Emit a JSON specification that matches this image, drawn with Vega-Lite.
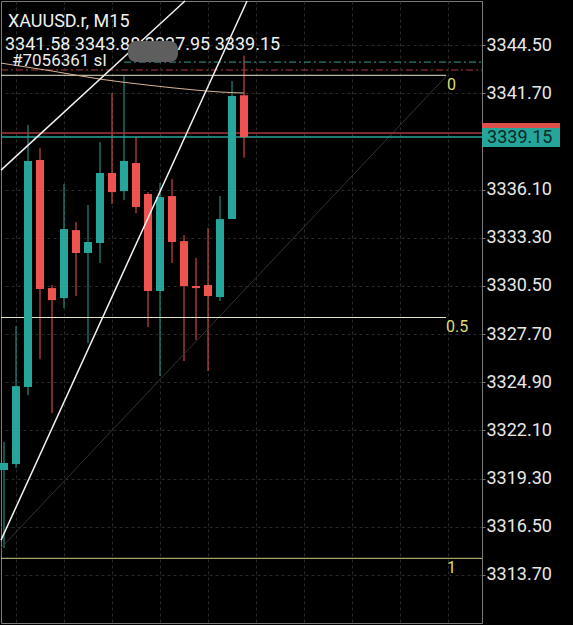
{
  "$schema": "https://vega.github.io/schema/vega-lite/v6.json",
  "width": 481,
  "height": 622,
  "autosize": {"type": "none"},
  "padding": {"left": 1, "top": 1, "right": 91, "bottom": 2},
  "background": "#000000",
  "config": {"view": {"stroke": "#7a7a7a", "strokeWidth": 1}, "font": "Roboto", "scale": {"continuousPadding": 0}},
  "datasets": {
    "candles": [
      {"i": 0, "o": 3319.79, "h": 3321.42, "l": 3315.26, "c": 3320.20},
      {"i": 1, "o": 3320.14, "h": 3328.16, "l": 3319.91, "c": 3324.67},
      {"i": 2, "o": 3324.62, "h": 3339.85, "l": 3324.15, "c": 3337.76},
      {"i": 3, "o": 3337.81, "h": 3338.51, "l": 3326.24, "c": 3330.31},
      {"i": 4, "o": 3330.37, "h": 3330.55, "l": 3323.10, "c": 3329.67},
      {"i": 5, "o": 3329.79, "h": 3336.42, "l": 3329.21, "c": 3333.80},
      {"i": 6, "o": 3333.74, "h": 3334.21, "l": 3329.91, "c": 3332.41},
      {"i": 7, "o": 3332.41, "h": 3335.20, "l": 3327.17, "c": 3333.05},
      {"i": 8, "o": 3332.99, "h": 3338.86, "l": 3331.83, "c": 3337.06},
      {"i": 9, "o": 3337.06, "h": 3341.71, "l": 3335.26, "c": 3335.95},
      {"i": 10, "o": 3336.01, "h": 3342.74, "l": 3335.49, "c": 3337.76},
      {"i": 11, "o": 3337.64, "h": 3339.15, "l": 3334.73, "c": 3335.08},
      {"i": 12, "o": 3335.84, "h": 3335.95, "l": 3328.10, "c": 3330.20},
      {"i": 13, "o": 3330.20, "h": 3336.48, "l": 3325.26, "c": 3335.66},
      {"i": 14, "o": 3335.72, "h": 3336.71, "l": 3331.83, "c": 3333.05},
      {"i": 15, "o": 3333.10, "h": 3333.45, "l": 3326.13, "c": 3330.49},
      {"i": 16, "o": 3330.49, "h": 3332.12, "l": 3327.35, "c": 3330.37},
      {"i": 17, "o": 3330.55, "h": 3333.86, "l": 3325.55, "c": 3329.91},
      {"i": 18, "o": 3329.85, "h": 3335.72, "l": 3329.62, "c": 3334.38},
      {"i": 19, "o": 3334.38, "h": 3342.41, "l": 3334.38, "c": 3341.53},
      {"i": 20, "o": 3341.58, "h": 3343.88, "l": 3337.95, "c": 3339.15}
    ],
    "ma": [
      {"i": -0.25, "p": 3343.45},
      {"i": 4, "p": 3342.99},
      {"i": 8, "p": 3342.52},
      {"i": 12, "p": 3342.17},
      {"i": 16, "p": 3341.88},
      {"i": 18, "p": 3341.77},
      {"i": 20, "p": 3341.71}
    ]
  },
  "layer": [
    {
      "data": {"name": "candles"},
      "mark": {"type": "rule", "strokeWidth": 1},
      "encoding": {
        "x": {"field": "i", "type": "quantitative", "title": null,
              "scale": {"domain": [-0.25, 39.83], "nice": false, "zero": false, "padding": 0},
              "axis": {"orient": "bottom", "values": [1, 5, 9, 13, 17, 21, 25, 29, 33, 37], "labels": false, "ticks": false, "domain": false, "grid": true, "gridColor": "#2a2a2a", "gridDash": [3, 3]}},
        "y": {"field": "l", "type": "quantitative", "title": null,
              "scale": {"domain": [3310.90, 3347.06], "nice": false, "zero": false, "padding": 0},
              "axis": {"orient": "right", "values": [3313.7, 3316.5, 3319.3, 3322.1, 3324.9, 3327.7, 3330.5, 3333.3, 3336.1, 3341.7, 3344.5], "format": ".2f", "grid": true, "gridColor": "#2a2a2a", "gridDash": [3, 3], "domainColor": "#7a7a7a", "tickColor": "#7a7a7a", "tickSize": 3, "labelColor": "#e8e8e8", "labelFont": "Roboto", "labelFontSize": 18, "labelPadding": 1, "labelOverlap": false, "labelFlush": false, "labelBound": false}},
        "y2": {"field": "h"},
        "color": {"condition": {"test": "datum.c >= datum.o", "value": "#26a69a"}, "value": "#ef5350"}
      }
    },
    {
      "data": {"values": [{"i": -0.25, "p": 3315.26}, {"i": 36.92, "p": 3342.74}]},
      "mark": {"type": "line", "color": "#333333", "strokeWidth": 1},
      "encoding": {"x": {"field": "i", "type": "quantitative", "title": null}, "y": {"field": "p", "type": "quantitative", "title": null}}
    },
    {
      "data": {"values": [{"i": 10.0, "p": 3343.51}, {"i": 39.83, "p": 3343.51}]},
      "mark": {"type": "line", "color": "#3a9d94", "strokeWidth": 1, "strokeDash": [7, 3, 2, 3]},
      "encoding": {"x": {"field": "i", "type": "quantitative", "title": null}, "y": {"field": "p", "type": "quantitative", "title": null}}
    },
    {
      "data": {"values": [{"i": -0.25, "p": 3343.05}, {"i": 39.83, "p": 3343.05}]},
      "mark": {"type": "line", "color": "#b03c3c", "strokeWidth": 1, "strokeDash": [7, 3, 2, 3]},
      "encoding": {"x": {"field": "i", "type": "quantitative", "title": null}, "y": {"field": "p", "type": "quantitative", "title": null}}
    },
    {
      "data": {"values": [
        {"lvl": "0", "i": -0.25, "p": 3342.74}, {"lvl": "0", "i": 36.83, "p": 3342.74},
        {"lvl": "0.5", "i": -0.25, "p": 3328.66}, {"lvl": "0.5", "i": 36.83, "p": 3328.66}
      ]},
      "mark": {"type": "line", "color": "#e6e2c8", "strokeWidth": 1},
      "encoding": {"x": {"field": "i", "type": "quantitative", "title": null}, "y": {"field": "p", "type": "quantitative", "title": null}, "detail": {"field": "lvl"}}
    },
    {
      "data": {"values": [{"i": -0.25, "p": 3314.66}, {"i": 39.83, "p": 3314.66}]},
      "mark": {"type": "line", "color": "#c9c98a", "strokeWidth": 1},
      "encoding": {"x": {"field": "i", "type": "quantitative", "title": null}, "y": {"field": "p", "type": "quantitative", "title": null}}
    },
    {
      "data": {"values": [{"i": -0.25, "p": 3339.39}, {"i": 39.83, "p": 3339.39}]},
      "mark": {"type": "line", "color": "#a83a3a", "strokeWidth": 1.5},
      "encoding": {"x": {"field": "i", "type": "quantitative", "title": null}, "y": {"field": "p", "type": "quantitative", "title": null}}
    },
    {
      "data": {"values": [{"i": -0.25, "p": 3339.15}, {"i": 39.83, "p": 3339.15}]},
      "mark": {"type": "line", "color": "#26a69a", "strokeWidth": 1.5},
      "encoding": {"x": {"field": "i", "type": "quantitative", "title": null}, "y": {"field": "p", "type": "quantitative", "title": null}}
    },
    {
      "data": {"name": "ma"},
      "mark": {"type": "line", "color": "#d9b394", "strokeWidth": 1, "interpolate": "monotone"},
      "encoding": {"x": {"field": "i", "type": "quantitative", "title": null}, "y": {"field": "p", "type": "quantitative", "title": null}}
    },
    {
      "data": {"name": "candles"},
      "mark": {"type": "bar", "width": 8},
      "encoding": {
        "x": {"field": "i", "type": "quantitative", "title": null},
        "y": {"field": "o", "type": "quantitative", "title": null},
        "y2": {"field": "c"},
        "color": {"condition": {"test": "datum.c >= datum.o", "value": "#26a69a"}, "value": "#ef5350"}
      }
    },
    {
      "data": {"values": [
        {"k": "a", "i": -0.25, "p": 3337.23}, {"k": "a", "i": 15.08, "p": 3347.06},
        {"k": "b", "i": -0.25, "p": 3315.72}, {"k": "b", "i": 20.25, "p": 3347.06}
      ]},
      "mark": {"type": "line", "color": "#f2f2f2", "strokeWidth": 1.5},
      "encoding": {"x": {"field": "i", "type": "quantitative", "title": null}, "y": {"field": "p", "type": "quantitative", "title": null}, "detail": {"field": "k"}}
    },
    {
      "data": {"values": [
        {"t": "XAUUSD.r, M15", "i": 0.33, "p": 3345.84},
        {"t": "3341.58 3343.88 3337.95 3339.15", "i": 0.08, "p": 3344.52}
      ]},
      "mark": {"type": "text", "align": "left", "baseline": "middle", "font": "Roboto", "fontSize": 18, "color": "#f0f0f0"},
      "encoding": {"x": {"field": "i", "type": "quantitative", "title": null}, "y": {"field": "p", "type": "quantitative", "title": null}, "text": {"field": "t"}}
    },
    {
      "data": {"values": [
        {"t": "#7056361 sl", "i": 0.67, "p": 3343.60}
      ]},
      "mark": {"type": "text", "align": "left", "baseline": "middle", "font": "Roboto", "fontSize": 17, "color": "#ececec"},
      "encoding": {"x": {"field": "i", "type": "quantitative", "title": null}, "y": {"field": "p", "type": "quantitative", "title": null}, "text": {"field": "t"}}
    },
    {
      "data": {"values": [{"i": 10.33, "i2": 14.5, "p": 3344.73, "p2": 3343.51}]},
      "mark": {"type": "rect", "color": "#5e5e5e", "cornerRadius": 8},
      "encoding": {"x": {"field": "i", "type": "quantitative", "title": null}, "x2": {"field": "i2"}, "y": {"field": "p", "type": "quantitative", "title": null}, "y2": {"field": "p2"}}
    },
    {
      "data": {"values": [
        {"t": "0", "i": 36.92, "p": 3342.17},
        {"t": "0.5", "i": 36.83, "p": 3328.10},
        {"t": "1", "i": 36.92, "p": 3314.09}
      ]},
      "mark": {"type": "text", "align": "left", "baseline": "middle", "font": "Roboto", "fontSize": 16, "color": "#dede6e"},
      "encoding": {"x": {"field": "i", "type": "quantitative", "title": null}, "y": {"field": "p", "type": "quantitative", "title": null}, "text": {"field": "t"}}
    },
    {
      "data": {"values": [
        {"b": "ask", "i": 39.83, "i2": 46.33, "p": 3339.97, "p2": 3338.80},
        {"b": "bid", "i": 39.83, "i2": 46.33, "p": 3339.67, "p2": 3338.57}
      ]},
      "mark": {"type": "rect"},
      "encoding": {
        "x": {"field": "i", "type": "quantitative", "title": null}, "x2": {"field": "i2"},
        "y": {"field": "p", "type": "quantitative", "title": null}, "y2": {"field": "p2"},
        "color": {"field": "b", "type": "nominal", "scale": {"domain": ["ask", "bid"], "range": ["#e0504a", "#26a69a"]}, "legend": null}
      }
    },
    {
      "data": {"values": [{"t": "3339.15", "i": 40.25, "p": 3339.12}]},
      "mark": {"type": "text", "align": "left", "baseline": "middle", "font": "Roboto", "fontSize": 18, "color": "#0c2a28"},
      "encoding": {"x": {"field": "i", "type": "quantitative", "title": null}, "y": {"field": "p", "type": "quantitative", "title": null}, "text": {"field": "t"}}
    }
  ]
}
